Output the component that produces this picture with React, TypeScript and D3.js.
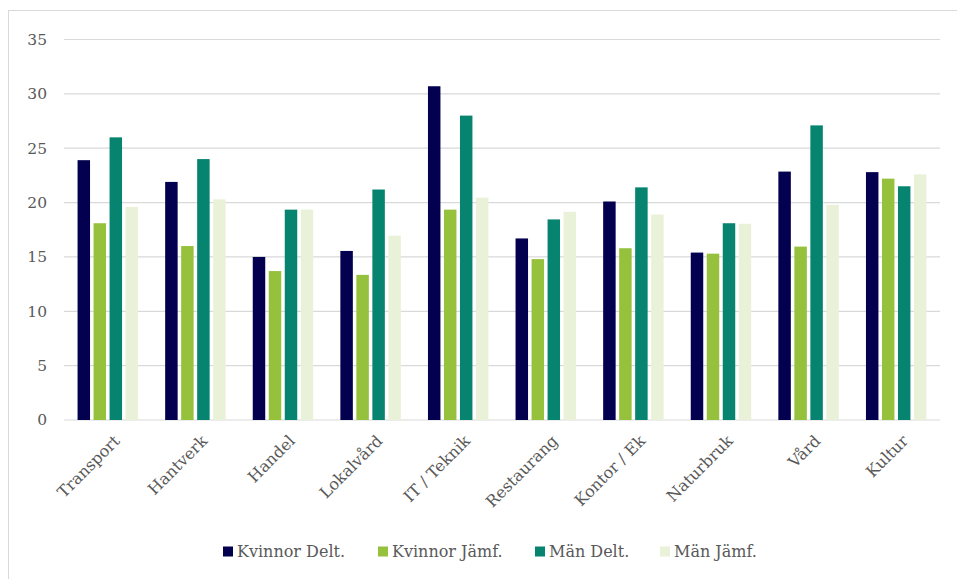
import React from "react";
import * as d3 from "d3";

const categories = ["Transport", "Hantverk", "Handel", "Lokalvård", "IT / Teknik", "Restaurang", "Kontor / Ek", "Naturbruk", "Vård", "Kultur"];
const seriesNames = ["Kvinnor Delt.", "Kvinnor Jämf.", "Män Delt.", "Män Jämf."];
const kvinnorDelt = [23.9, 21.9, 15.0, 15.55, 30.7, 16.7, 20.1, 15.4, 22.85, 22.8];
const kvinnorJamf = [18.1, 16.0, 13.7, 13.35, 19.35, 14.8, 15.8, 15.3, 15.95, 22.2];
const manDelt = [26.0, 24.0, 19.35, 21.2, 28.0, 18.45, 21.4, 18.1, 27.1, 21.5];
const manJamf = [19.6, 20.3, 19.35, 16.95, 20.45, 19.15, 18.9, 18.05, 19.8, 22.6];
const yTicks = [0, 5, 10, 15, 20, 25, 30, 35];
const colors = ["#02004f", "#95c13d", "#078470", "#e9f2d9"];

const W = 957;
const H = 579;
const font = "Georgia, 'DejaVu Serif', serif";

export default function App() {
  const series = [kvinnorDelt, kvinnorJamf, manDelt, manJamf];
  const x = d3.scaleBand<string>().domain(categories).range([64, 940]).paddingInner(0.2694).paddingOuter(0.1347);
  const xs = d3.scaleBand<number>().domain([0, 1, 2, 3]).range([0, x.bandwidth()]).paddingInner(0.22).paddingOuter(0.11);
  const y = d3.scaleLinear().domain([0, 35]).range([420, 39.5]);
  const legendX = [223, 378, 535, 660];

  return (
    <svg width={W} height={H} style={{ position: "absolute", left: 0, top: 0, background: "#fff" }}>
      <rect x={8.5} y={10.5} width={960} height={600} fill="#fff" stroke="#d9d9d9" strokeWidth={1} />
      {yTicks.map((t) => (
        <g key={t}>
          <line x1={64} x2={940} y1={y(t)} y2={y(t)} stroke="#d9d9d9" strokeWidth={1.2} />
          <text x={47} y={y(t)} dy="0.35em" textAnchor="end" fontFamily={font} fontSize={15.5} fill="#595959">
            {t}
          </text>
        </g>
      ))}
      {categories.map((c, i) => (
        <g key={c} transform={`translate(${x(c)},0)`}>
          {series.map((s, j) => (
            <rect
              key={j}
              x={xs(j)}
              y={y(s[i])}
              width={xs.bandwidth()}
              height={y(0) - y(s[i])}
              fill={colors[j]}
            />
          ))}
        </g>
      ))}
      {categories.map((c) => {
        const cx = (x(c) as number) + x.bandwidth() / 2;
        return (
          <text
            key={c}
            transform={`translate(${cx + 9},${438}) rotate(-45)`}
            textAnchor="end"
            dy="0.35em"
            fontFamily={font}
            fontSize={16}
            fill="#595959"
          >
            {c}
          </text>
        );
      })}
      {seriesNames.map((n, j) => (
        <g key={n}>
          <rect x={legendX[j]} y={546.5} width={10} height={10} fill={colors[j]} />
          <text x={legendX[j] + 14} y={551.5} dy="0.35em" fontFamily={font} fontSize={16} fill="#595959">
            {n}
          </text>
        </g>
      ))}
    </svg>
  );
}
